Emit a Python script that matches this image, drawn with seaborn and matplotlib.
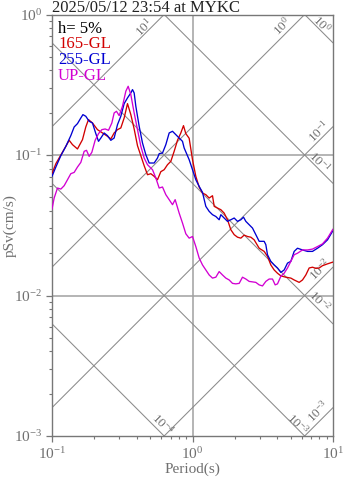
import numpy as np
import pandas as pd
import matplotlib
matplotlib.use("Agg")
import matplotlib.pyplot as plt
import seaborn as sns

# ---------------- data ----------------
title_text = "2025/05/12 23:54 at MYKC"
damping_text = "h= 5%"
series_names = ["165-GL", "255-GL", "UP-GL"]
series_colors = ["#d20000", "#0000d2", "#d200d2"]

period_165 = [0.1, 0.1065, 0.1156, 0.1255, 0.1325, 0.1399, 0.1518, 0.1648, 0.1740, 0.1818,
              0.1941, 0.2107, 0.2288, 0.2483, 0.2622, 0.2769, 0.2925, 0.3089, 0.3263, 0.3446,
              0.3640, 0.3844, 0.4060, 0.4288, 0.4529, 0.4783, 0.5051, 0.5335, 0.5635, 0.5951,
              0.6285, 0.6638, 0.7010, 0.7404, 0.7819, 0.8258, 0.8627, 0.8963, 0.9468, 1.0,
              1.056, 1.115, 1.178, 1.244, 1.314, 1.388, 1.427, 1.507, 1.591, 1.680,
              1.775, 1.874, 1.980, 2.091, 2.208, 2.332, 2.463, 2.601, 2.747, 2.982,
              3.236, 3.418, 3.610, 3.813, 4.027, 4.253, 4.616, 5.011, 5.292, 5.744,
              6.066, 6.407, 6.767, 7.147, 7.548, 7.971, 8.420, 9.141, 10.0]
psv_165 = [0.0736, 0.0867, 0.1000, 0.1153, 0.1272, 0.1185, 0.1104, 0.1286, 0.1583, 0.1786,
           0.1690, 0.1515, 0.1435, 0.1358, 0.1300, 0.1435, 0.1515, 0.1558, 0.1835, 0.2321,
           0.1938, 0.1532, 0.1165, 0.0989, 0.0839, 0.0724, 0.0736, 0.0705, 0.0667, 0.0761,
           0.0786, 0.0853, 0.0901, 0.1062, 0.1272, 0.1435, 0.1618, 0.1419, 0.1315, 0.0926,
           0.0705, 0.0592, 0.0536, 0.0522, 0.0494, 0.0513, 0.0431, 0.0419, 0.0408, 0.0386,
           0.0346, 0.0294, 0.0271, 0.0260, 0.0256, 0.0269, 0.0263, 0.0260, 0.0249, 0.0217,
           0.0206, 0.0190, 0.0165, 0.0152, 0.0144, 0.0138, 0.0135, 0.0133, 0.0129, 0.0124,
           0.0129, 0.0140, 0.0157, 0.0159, 0.0156, 0.0157, 0.0163, 0.0168, 0.0173]

period_255 = [0.1, 0.1065, 0.1156, 0.1255, 0.1361, 0.1438, 0.1518, 0.1604, 0.1660, 0.1740,
              0.1838, 0.1941, 0.2051, 0.2143, 0.2227, 0.2351, 0.2483, 0.2622, 0.2769, 0.2925,
              0.3089, 0.3263, 0.3446, 0.3640, 0.3741, 0.3844, 0.3951, 0.4173, 0.4406, 0.4654,
              0.4916, 0.5335, 0.5635, 0.5791, 0.6116, 0.6459, 0.6822, 0.7205, 0.7609, 0.8036,
              0.8487, 0.8722, 0.9468, 1.0, 1.056, 1.115, 1.178, 1.244, 1.314, 1.388,
              1.466, 1.548, 1.591, 1.680, 1.775, 1.874, 1.980, 2.091, 2.208, 2.307,
              2.397, 2.531, 2.673, 2.823, 2.982, 3.236, 3.326, 3.418, 3.610, 3.813,
              4.027, 4.253, 4.492, 4.744, 5.011, 5.292, 5.589, 6.066, 6.585, 7.147,
              7.757, 8.420, 9.141, 10.0]
psv_255 = [0.0705, 0.0821, 0.0989, 0.1153, 0.1373, 0.1583, 0.1672, 0.1835, 0.1938, 0.1886,
           0.1738, 0.1690, 0.1419, 0.1251, 0.1321, 0.1435, 0.1373, 0.1272, 0.1321, 0.1645,
           0.1886, 0.2321, 0.2548, 0.2765, 0.2921, 0.2765, 0.2222, 0.1601, 0.1218, 0.1005,
           0.0877, 0.0877, 0.0952, 0.1022, 0.1033, 0.1185, 0.1435, 0.1475, 0.1396, 0.1321,
           0.1251, 0.1122, 0.0926, 0.0786, 0.0667, 0.0598, 0.0542, 0.0431, 0.0397, 0.0376,
           0.0365, 0.0346, 0.0376, 0.0356, 0.0337, 0.0346, 0.0356, 0.0337, 0.0346, 0.0361,
           0.0337, 0.0319, 0.0302, 0.0271, 0.0243, 0.0243, 0.0230, 0.0195, 0.0175, 0.0165,
           0.0157, 0.0146, 0.0152, 0.0170, 0.0175, 0.0206, 0.0217, 0.0211, 0.0206, 0.0206,
           0.0217, 0.0230, 0.0249, 0.0290]

period_up = [0.1, 0.1036, 0.1094, 0.1156, 0.1221, 0.1289, 0.1361, 0.1438, 0.1518, 0.1604,
             0.1694, 0.1760, 0.1838, 0.1921, 0.2028, 0.2143, 0.2263, 0.2390, 0.2524, 0.2666,
             0.2769, 0.2877, 0.3006, 0.3174, 0.3353, 0.3484, 0.3640, 0.3844, 0.4060, 0.4288,
             0.4529, 0.4783, 0.5191, 0.5483, 0.5791, 0.6116, 0.6459, 0.6822, 0.7205, 0.7527,
             0.8036, 0.8487, 0.8963, 0.9468, 1.0, 1.056, 1.115, 1.178, 1.244, 1.314,
             1.388, 1.466, 1.548, 1.635, 1.727, 1.824, 1.926, 2.034, 2.149, 2.269,
             2.397, 2.531, 2.673, 2.823, 2.982, 3.149, 3.326, 3.513, 3.710, 3.876,
             4.027, 4.253, 4.492, 4.744, 5.011, 5.292, 5.589, 6.066, 6.585, 7.147,
             7.757, 8.420, 9.141, 10.0]
psv_up = [0.0412, 0.0494, 0.0582, 0.0572, 0.0605, 0.0667, 0.0736, 0.0752, 0.0821, 0.0886,
          0.1062, 0.1080, 0.0978, 0.1045, 0.1272, 0.1419, 0.1515, 0.1532, 0.1499, 0.1690,
          0.1992, 0.2047, 0.1906, 0.2222, 0.2843, 0.3084, 0.2691, 0.1992, 0.1515, 0.1153,
          0.0952, 0.0853, 0.0786, 0.0686, 0.0582, 0.0592, 0.0522, 0.0481, 0.0443, 0.0481,
          0.0386, 0.0328, 0.0275, 0.0256, 0.0263, 0.0223, 0.0185, 0.0165, 0.0152, 0.0140,
          0.0133, 0.0135, 0.0148, 0.0140, 0.0133, 0.0129, 0.0122, 0.0121, 0.0122, 0.0135,
          0.0131, 0.0126, 0.0125, 0.0124, 0.0119, 0.0117, 0.0126, 0.0131, 0.0131, 0.0119,
          0.0121, 0.0137, 0.0144, 0.0157, 0.0175, 0.0195, 0.0200, 0.0211, 0.0211, 0.0214,
          0.0223, 0.0233, 0.0256, 0.0297]

# tripartite reference lines
accel_levels = [10.0, 1.0, 0.1, 0.01, 0.001]      # cm/s^2  (Sv = Sa*T/2pi)
disp_levels = [1.0, 0.1, 0.01, 0.001, 0.0001]     # cm      (Sv = 2pi*Sd/T)
accel_labels = ["$10^{1}$", "$10^{0}$", "$10^{-1}$", "$10^{-2}$", "$10^{-3}$"]
disp_labels = ["$10^{0}$", "$10^{-1}$", "$10^{-2}$", "$10^{-3}$", "$10^{-4}$"]

x_label = "Period(s)"
y_label = "pSv(cm/s)"

# ---------------- style ----------------
sns.set_style("white")
plt.rcParams["font.family"] = ["Liberation Serif", "DejaVu Serif"]
plt.rcParams["mathtext.fontset"] = "custom"
plt.rcParams["mathtext.rm"] = "Liberation Serif"
plt.rcParams["mathtext.it"] = "Liberation Serif"
plt.rcParams["mathtext.bf"] = "Liberation Serif"
plt.rcParams["mathtext.default"] = "rm"

GRAY_AX = "#777777"
GRAY_TXT = "#707070"
GRAY_GRID = "#a0a0a0"
GRAY_DIAG = "#8a8a8a"

W, H = 347, 478
fig = plt.figure(figsize=(W / 100, H / 100), dpi=100)
L, R, T_, B = 52, 333, 14.5, 436
ax = fig.add_axes([L / W, 1 - B / H, (R - L) / W, (B - T_) / H])
ax.set_xscale("log")
ax.set_yscale("log")
ax.set_xlim(0.1, 10)
ax.set_ylim(1e-3, 1)

# grid lines
ax.axvline(1.0, color=GRAY_GRID, lw=1.1, zorder=1)
for yv in [0.1, 0.01]:
    ax.axhline(yv, color=GRAY_GRID, lw=1.1, zorder=1)

# diagonal lines
Tline = np.array([0.1, 10.0])
for sa in accel_levels:
    ax.plot(Tline, sa * Tline / (2 * np.pi), color=GRAY_DIAG, lw=0.75, zorder=1)
for sd in disp_levels:
    ax.plot(Tline, 2 * np.pi * sd / Tline, color=GRAY_DIAG, lw=0.75, zorder=1)

# diagonal labels: anchored at line exit point, offsets in pixels
def exit_point_acc(sa):
    t_top = 2 * np.pi / sa
    if t_top <= 10:
        return t_top, 1.0
    return 10.0, sa * 10 / (2 * np.pi)

def exit_point_disp(sd):
    t_bot = 2 * np.pi * sd / 1e-3
    if t_bot <= 10:
        return t_bot, 1e-3
    return 10.0, 2 * np.pi * sd / 10

acc_offsets = [(-20.5, -12.5), (-22, -11.5), (-14, -5), (-13, -2), (-15, -4)]
disp_offsets = [(-11, 18.4), (-14, 21), (-14, 23), (-7, 12), (-1.5, 12)]
for sa, lab, off in zip(accel_levels, accel_labels, acc_offsets):
    ax.annotate(lab, xy=exit_point_acc(sa), xytext=off, textcoords="offset pixels",
                ha="center", va="center", rotation=45, fontsize=9.5, color=GRAY_TXT,
                annotation_clip=False, zorder=2)
for sd, lab, off in zip(disp_levels, disp_labels, disp_offsets):
    ax.annotate(lab, xy=exit_point_disp(sd), xytext=off, textcoords="offset pixels",
                ha="center", va="center", rotation=-45, fontsize=9.5, color=GRAY_TXT,
                annotation_clip=False, zorder=2)

# spectra curves
df = pd.concat([
    pd.DataFrame({"T": period_165, "Sv": psv_165, "comp": series_names[0]}),
    pd.DataFrame({"T": period_255, "Sv": psv_255, "comp": series_names[1]}),
    pd.DataFrame({"T": period_up, "Sv": psv_up, "comp": series_names[2]}),
], ignore_index=True)
sns.lineplot(data=df, x="T", y="Sv", hue="comp", palette=dict(zip(series_names, series_colors)),
             estimator=None, sort=False, lw=0.95, legend=False, ax=ax, zorder=3)

# legend-like text
ax.text(6 / (R - L), 1 - 14.5 / (B - T_), damping_text, transform=ax.transAxes,
        fontsize=12, color="black", va="center", ha="left")
for i, (nm, col) in enumerate(zip(series_names, series_colors)):
    ax.text(6 / (R - L), 1 - (30 + 15.5 * i) / (B - T_), nm, transform=ax.transAxes,
            fontsize=12, color=col, va="center", ha="left")

# title
fig.text(L / W, 1 - 12 / H, title_text, fontsize=12, color="#222222", ha="left", va="baseline")

# axes styling
for sp in ax.spines.values():
    sp.set_color(GRAY_AX)
    sp.set_linewidth(1.0)
ax.tick_params(which="major", direction="out", length=4.5, width=0.9, color=GRAY_AX,
               labelcolor=GRAY_TXT, labelsize=11, pad=2.5)
ax.tick_params(which="minor", direction="out", length=2.2, width=0.8, color=GRAY_AX)
ax.tick_params(axis="both", which="both", top=False, right=False, bottom=True, left=True)
ax.xaxis.set_major_locator(matplotlib.ticker.LogLocator(base=10, numticks=10))
ax.yaxis.set_major_locator(matplotlib.ticker.LogLocator(base=10, numticks=10))
ax.xaxis.set_minor_locator(matplotlib.ticker.LogLocator(base=10, subs=np.arange(2, 10), numticks=20))
ax.yaxis.set_minor_locator(matplotlib.ticker.LogLocator(base=10, subs=np.arange(2, 10), numticks=20))
ax.xaxis.set_minor_formatter(matplotlib.ticker.NullFormatter())
ax.yaxis.set_minor_formatter(matplotlib.ticker.NullFormatter())
ax.set_xlabel(x_label, fontsize=11, color=GRAY_TXT, labelpad=1)
ax.set_ylabel(y_label, fontsize=11, color=GRAY_TXT)
ax.yaxis.set_label_coords((17 - L) / (R - L), 0.5)

fig.savefig("out.png", dpi=100)
